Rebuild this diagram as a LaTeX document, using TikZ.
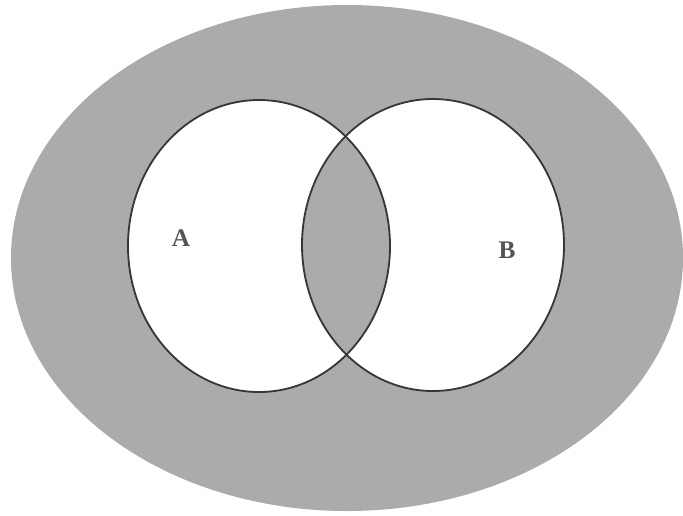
\documentclass[tikz,border=0pt]{standalone}
\usepackage{fontspec}
\setmainfont{Liberation Serif}
\usetikzlibrary{backgrounds}
\definecolor{setfill}{RGB}{171, 171, 171}
\definecolor{setdraw}{RGB}{55, 55, 55}
\definecolor{labeltext}{RGB}{85, 85, 85}

\begin{document}
\begin{tikzpicture}[
    x=0.025cm, y=-0.025cm,
    % 样式定义
    universe/.style={fill=setfill, draw=none},
    setarea/.style={fill=white, draw=none},
    setline/.style={draw=setdraw, line width=1.3pt},
    setlabel/.style={font=\fontsize{18}{20}\selectfont\bfseries, text=labeltext, inner sep=0pt}
]

% 半径与圆心
\def\Rx{131}
\def\Ry{146}

% ==========================================
% 1. 画布范围与全集椭圆
% ==========================================
\useasboundingbox (0, 0) rectangle (683, 515);
\fill[universe] (347, 258) ellipse [x radius=336, y radius=253];

% ==========================================
% 2. 集合 A 与 B (白色填充)
% ==========================================
\coordinate (cA) at (259, 246);
\coordinate (cB) at (433, 245);
\fill[setarea] (cA) ellipse [x radius=\Rx, y radius=\Ry];
\fill[setarea] (cB) ellipse [x radius=\Rx, y radius=\Ry];

% 交集部分 (灰色)
\begin{scope}
    \clip (cA) ellipse [x radius=\Rx, y radius=\Ry];
    \fill[universe] (cB) ellipse [x radius=\Rx, y radius=\Ry];
\end{scope}

% 边界线
\draw[setline] (cA) ellipse [x radius=\Rx, y radius=\Ry];
\draw[setline] (cB) ellipse [x radius=\Rx, y radius=\Ry];

% ==========================================
% 3. 标签
% ==========================================
\node[setlabel] (lblA) at (181, 238) {A};
\node[setlabel] (lblB) at (507, 250) {B};

\end{tikzpicture}
\end{document}
